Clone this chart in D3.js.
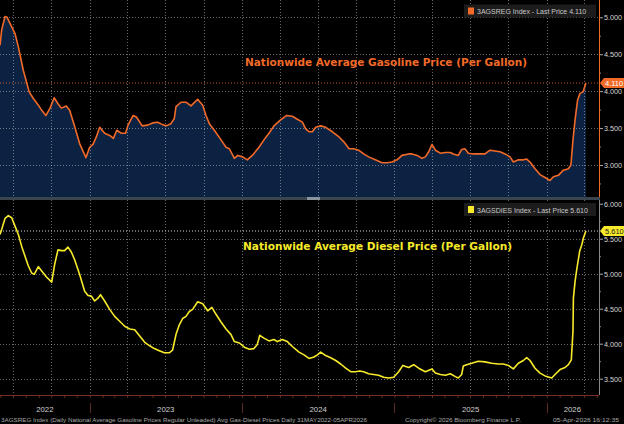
<!DOCTYPE html>
<html>
<head>
<meta charset="utf-8">
<script src="https://cdn.jsdelivr.net/npm/d3@7"></script>
<style>
  html, body { margin: 0; padding: 0; background: #000; }
  svg { display: block; font-family: "Liberation Sans", Arial, sans-serif; }
  .title { font-family: "DejaVu Sans", sans-serif; font-weight: bold; }
</style>
</head>
<body>
<svg id="chart"></svg>
<script>
const width = 624;
const height = 424;

// Gasoline (3AGSREG Index), $ per gallon
const gasDates = ["2022-05-31","2022-06-04","2022-06-12","2022-06-17","2022-06-28","2022-07-06","2022-07-14","2022-07-26","2022-08-09","2022-08-19","2022-08-31","2022-09-08","2022-09-18","2022-09-28","2022-10-08","2022-10-17","2022-10-25","2022-11-06","2022-11-14","2022-11-26","2022-12-08","2022-12-23","2023-01-01","2023-01-09","2023-01-17","2023-01-25","2023-02-06","2023-02-18","2023-02-27","2023-03-07","2023-03-18","2023-03-28","2023-04-03","2023-04-15","2023-04-23","2023-05-07","2023-05-20","2023-06-01","2023-06-13","2023-06-24","2023-07-03","2023-07-15","2023-07-23","2023-07-27","2023-08-08","2023-08-20","2023-09-01","2023-09-17","2023-09-29","2023-10-07","2023-10-15","2023-10-27","2023-11-12","2023-11-24","2023-12-02","2023-12-14","2023-12-22","2024-01-03","2024-01-14","2024-01-26","2024-02-11","2024-02-23","2024-03-06","2024-03-18","2024-04-03","2024-04-17","2024-05-01","2024-05-13","2024-05-25","2024-06-02","2024-06-10","2024-06-18","2024-06-26","2024-07-08","2024-07-20","2024-08-05","2024-08-21","2024-09-02","2024-09-14","2024-09-25","2024-10-07","2024-10-19","2024-10-31","2024-11-16","2024-12-02","2024-12-14","2024-12-26","2025-01-07","2025-01-19","2025-02-04","2025-02-12","2025-02-24","2025-03-08","2025-03-16","2025-03-24","2025-04-01","2025-04-09","2025-04-21","2025-05-03","2025-05-15","2025-05-22","2025-06-03","2025-06-11","2025-06-19","2025-06-27","2025-07-09","2025-07-21","2025-08-06","2025-08-18","2025-08-30","2025-09-11","2025-09-23","2025-10-05","2025-10-13","2025-10-25","2025-11-06","2025-11-14","2025-11-22","2025-12-04","2025-12-16","2025-12-28","2026-01-09","2026-01-17","2026-01-29","2026-02-10","2026-02-22","2026-02-28","2026-03-05","2026-03-10","2026-03-16","2026-03-22","2026-03-29","2026-04-02","2026-04-05"];
const gasValues = [4.62,4.83,5.01,5.00,4.87,4.78,4.60,4.28,3.99,3.90,3.81,3.74,3.67,3.77,3.91,3.83,3.77,3.80,3.74,3.52,3.29,3.10,3.24,3.28,3.38,3.51,3.43,3.40,3.36,3.47,3.43,3.43,3.54,3.67,3.65,3.53,3.54,3.57,3.58,3.55,3.53,3.56,3.63,3.79,3.85,3.85,3.80,3.89,3.81,3.67,3.56,3.47,3.34,3.24,3.22,3.09,3.13,3.11,3.07,3.13,3.24,3.34,3.43,3.53,3.61,3.67,3.66,3.62,3.58,3.49,3.45,3.45,3.51,3.53,3.51,3.45,3.38,3.31,3.22,3.22,3.20,3.15,3.11,3.07,3.03,3.03,3.04,3.07,3.13,3.15,3.15,3.13,3.09,3.11,3.18,3.28,3.20,3.16,3.17,3.17,3.15,3.13,3.21,3.22,3.16,3.15,3.15,3.15,3.20,3.19,3.18,3.15,3.11,3.04,3.07,3.07,3.08,3.04,2.95,2.87,2.83,2.79,2.84,2.86,2.93,2.95,3.00,3.34,3.61,3.88,3.97,3.99,4.06,4.11];

// Diesel (3AGSDIES Index), $ per gallon
const dieselDates = ["2022-05-31","2022-06-04","2022-06-12","2022-06-20","2022-06-28","2022-07-06","2022-07-14","2022-07-22","2022-07-30","2022-08-07","2022-08-15","2022-08-21","2022-08-31","2022-09-08","2022-09-20","2022-10-02","2022-10-09","2022-10-17","2022-10-25","2022-11-02","2022-11-10","2022-11-18","2022-11-26","2022-12-08","2022-12-20","2022-12-28","2023-01-05","2023-01-13","2023-01-21","2023-01-27","2023-02-06","2023-02-18","2023-03-02","2023-03-14","2023-03-26","2023-04-07","2023-04-19","2023-05-01","2023-05-13","2023-05-25","2023-06-05","2023-06-17","2023-06-29","2023-07-11","2023-07-19","2023-07-27","2023-08-04","2023-08-12","2023-08-20","2023-08-28","2023-09-05","2023-09-17","2023-09-29","2023-10-11","2023-10-21","2023-10-31","2023-11-12","2023-11-24","2023-12-06","2023-12-14","2023-12-26","2024-01-07","2024-01-19","2024-01-30","2024-02-07","2024-02-13","2024-02-23","2024-03-06","2024-03-18","2024-03-26","2024-04-07","2024-04-19","2024-05-01","2024-05-17","2024-05-29","2024-06-10","2024-06-22","2024-06-30","2024-07-08","2024-07-20","2024-08-01","2024-08-13","2024-08-25","2024-09-06","2024-09-18","2024-09-30","2024-10-09","2024-10-19","2024-10-31","2024-11-12","2024-11-24","2024-12-06","2024-12-18","2024-12-30","2025-01-11","2025-01-21","2025-02-04","2025-02-16","2025-02-28","2025-03-16","2025-04-01","2025-04-09","2025-04-21","2025-05-03","2025-05-15","2025-05-27","2025-06-03","2025-06-11","2025-06-15","2025-06-23","2025-07-05","2025-07-21","2025-08-06","2025-08-22","2025-09-07","2025-09-19","2025-10-01","2025-10-13","2025-10-25","2025-11-06","2025-11-14","2025-11-22","2025-12-04","2025-12-16","2025-12-28","2026-01-13","2026-01-21","2026-02-02","2026-02-14","2026-02-22","2026-03-01","2026-03-05","2026-03-06","2026-03-10","2026-03-14","2026-03-21","2026-03-26","2026-03-30","2026-04-05"];
const dieselValues = [5.56,5.63,5.79,5.83,5.80,5.68,5.56,5.39,5.25,5.11,5.01,4.99,5.10,5.04,4.95,4.88,5.13,5.34,5.33,5.33,5.38,5.31,5.20,4.99,4.75,4.69,4.68,4.61,4.65,4.70,4.61,4.49,4.39,4.32,4.25,4.21,4.20,4.11,4.02,3.97,3.93,3.90,3.87,3.87,3.91,4.13,4.27,4.36,4.39,4.46,4.49,4.60,4.57,4.47,4.52,4.42,4.31,4.21,4.13,4.03,4.01,3.95,3.92,3.93,3.99,4.12,4.08,4.04,4.06,4.03,4.06,4.03,3.96,3.88,3.84,3.79,3.81,3.84,3.88,3.83,3.80,3.76,3.71,3.65,3.60,3.60,3.61,3.60,3.57,3.56,3.55,3.52,3.51,3.52,3.60,3.69,3.66,3.70,3.65,3.60,3.64,3.58,3.56,3.55,3.57,3.53,3.51,3.56,3.68,3.70,3.72,3.75,3.74,3.72,3.71,3.71,3.69,3.64,3.72,3.76,3.80,3.76,3.65,3.58,3.54,3.51,3.56,3.63,3.66,3.70,3.77,4.18,4.65,4.89,5.06,5.32,5.41,5.51,5.61];

const gasTicks = [3.0, 3.5, 4.0, 4.5, 5.0];
const gasMinorTicks = [2.75, 3.25, 3.75, 4.25, 4.75, 5.25];
const dieselTicks = [3.5, 4.0, 4.5, 5.0, 5.5, 6.0];
const dieselMinorTicks = [3.25, 3.75, 4.25, 4.75, 5.25, 5.75];
const yearLabels = ["2022", "2023", "2024", "2025", "2026"];

const gasLast = gasValues[gasValues.length - 1];
const dieselLast = dieselValues[dieselValues.length - 1];

const gasColor = "#f26a28";
const dieselColor = "#f7ea2a";

const parse = d3.utcParse("%Y-%m-%d");
const gasData = gasDates.map((d, i) => ({date: parse(d), value: gasValues[i]}));
const dieselData = dieselDates.map((d, i) => ({date: parse(d), value: dieselValues[i]}));

const plotRight = 598;
const top1 = 0, bottom1 = 197;   // panneau essence
const top2 = 200, bottom2 = 395; // panneau diesel

const x = d3.scaleUtc()
    .domain([parse("2022-05-31"), parse("2026-05-04")])
    .range([0, plotRight]);

const yGas = d3.scaleLinear().domain([3, 5]).range([165, 17.3]);
const yDiesel = d3.scaleLinear().domain([3.5, 6]).range([378.7, 203.7]);

const svg = d3.select("#chart")
    .attr("width", width)
    .attr("height", height)
    .attr("viewBox", [0, 0, width, height]);

svg.append("rect").attr("width", width).attr("height", height).attr("fill", "#000");

// Aire sous la courbe essence
svg.append("path")
    .datum(gasData)
    .attr("fill", "#0b2243")
    .attr("d", d3.area().x(d => x(d.date)).y0(bottom1).y1(d => yGas(d.value)));

// Grilles
const quarters = d3.utcMonth.every(3).range(x.domain()[0], x.domain()[1]);
const grid = svg.append("g")
    .attr("stroke", "#c8c8c8")
    .attr("stroke-opacity", 0.65)
    .attr("stroke-width", 0.8)
    .attr("stroke-dasharray", "1,2");

[[top1, bottom1], [top2, bottom2]].forEach(([t, b]) => {
  grid.append("g").selectAll("line")
    .data(quarters)
    .join("line")
      .attr("x1", d => Math.round(x(d)) + 0.5)
      .attr("x2", d => Math.round(x(d)) + 0.5)
      .attr("y1", t)
      .attr("y2", b);
});

grid.append("g").selectAll("line")
  .data(gasTicks)
  .join("line")
    .attr("x1", 0).attr("x2", plotRight)
    .attr("y1", d => Math.round(yGas(d)) + 0.5)
    .attr("y2", d => Math.round(yGas(d)) + 0.5);

grid.append("g").selectAll("line")
  .data(dieselTicks.filter(d => d < 6))
  .join("line")
    .attr("x1", 0).attr("x2", plotRight)
    .attr("y1", d => Math.round(yDiesel(d)) + 0.5)
    .attr("y2", d => Math.round(yDiesel(d)) + 0.5);

// Lignes du dernier prix
svg.append("line")
    .attr("x1", 0).attr("x2", plotRight)
    .attr("y1", yGas(gasLast)).attr("y2", yGas(gasLast))
    .attr("stroke", "#d9602a").attr("stroke-width", 0.9)
    .attr("stroke-dasharray", "1,2");

svg.append("line")
    .attr("x1", 0).attr("x2", plotRight)
    .attr("y1", yDiesel(dieselLast)).attr("y2", yDiesel(dieselLast))
    .attr("stroke", "#eee").attr("stroke-width", 0.9)
    .attr("stroke-dasharray", "1,2");

// Courbes
svg.append("path")
    .datum(gasData)
    .attr("fill", "none")
    .attr("stroke", gasColor)
    .attr("stroke-width", 1.6)
    .attr("stroke-linejoin", "round")
    .attr("d", d3.line().x(d => x(d.date)).y(d => yGas(d.value)));

svg.append("path")
    .datum(dieselData)
    .attr("fill", "none")
    .attr("stroke", dieselColor)
    .attr("stroke-width", 1.6)
    .attr("stroke-linejoin", "round")
    .attr("d", d3.line().x(d => x(d.date)).y(d => yDiesel(d.value)));

// Séparateur entre les panneaux
svg.append("rect").attr("x", 0).attr("y", bottom1).attr("width", 600).attr("height", 3).attr("fill", "#3a4550");
svg.append("rect").attr("x", 307).attr("y", bottom1).attr("width", 13).attr("height", 3).attr("fill", "#8a949c");

// Axes de droite
function rightAxis(scale, ticks, minor, lineColor, top, bottom) {
  const g = svg.append("g").attr("transform", `translate(${plotRight + 1},0)`);
  g.append("g")
      .call(d3.axisRight(scale).tickValues(ticks).tickFormat(d3.format(".3f")).tickSize(4).tickPadding(1))
      .call(s => s.select(".domain").remove())
      .call(s => s.selectAll(".tick line").attr("stroke", "#aaa"))
      .call(s => s.selectAll(".tick text")
          .attr("fill", "#d8d8d8")
          .attr("font-size", 7.2)
          .attr("font-family", null));
  g.append("g")
      .call(d3.axisRight(scale).tickValues(minor.filter(v => scale(v) > top && scale(v) < bottom)).tickFormat("").tickSize(2))
      .call(s => s.select(".domain").remove())
      .call(s => s.selectAll(".tick line").attr("stroke", "#888"));
  g.append("line")
      .attr("x1", 0.5).attr("x2", 0.5)
      .attr("y1", top).attr("y2", bottom)
      .attr("stroke", lineColor).attr("stroke-width", 1);
}
rightAxis(yGas, gasTicks, gasMinorTicks, gasColor, top1, bottom1);
rightAxis(yDiesel, dieselTicks, dieselMinorTicks, "#8a8a8a", top2, bottom2);

// Étiquettes du dernier prix
function lastTag(yPos, label, fill, textFill) {
  const g = svg.append("g").attr("transform", `translate(600,${yPos})`);
  g.append("path")
      .attr("d", "M0,0 L4,-5 L24,-5 L24,5 L4,5 Z")
      .attr("fill", fill);
  g.append("text")
      .attr("x", 5).attr("y", 0)
      .attr("dy", "0.35em")
      .attr("font-size", 7.5)
      .attr("fill", textFill)
      .text(label);
}
lastTag(yGas(gasLast), d3.format(".3f")(gasLast), gasColor, "#fff");
lastTag(yDiesel(dieselLast), d3.format(".3f")(dieselLast), dieselColor, "#222");

// Légendes
function legend(yTop, color, label) {
  const g = svg.append("g").attr("transform", `translate(464,${yTop})`);
  g.append("rect").attr("width", 132).attr("height", 13).attr("fill", "#1c1c1c");
  g.append("rect").attr("x", 4).attr("y", 3).attr("width", 6).attr("height", 7).attr("fill", color);
  g.append("text")
      .attr("x", 13).attr("y", 9.5)
      .attr("font-size", 7)
      .attr("fill", "#c8c8c8")
      .text(label);
}
legend(4.5, gasColor, `3AGSREG Index  -  Last Price  ${d3.format(".3f")(gasLast)}`);
legend(203, dieselColor, `3AGSDIES Index  -  Last Price  ${d3.format(".3f")(dieselLast)}`);

// Titres
svg.append("text")
    .attr("class", "title")
    .attr("x", 245).attr("y", 66)
    .attr("font-size", 10)
    .attr("textLength", 282)
    .attr("lengthAdjust", "spacingAndGlyphs")
    .attr("fill", gasColor)
    .text("Nationwide Average Gasoline Price (Per Gallon)");

svg.append("text")
    .attr("class", "title")
    .attr("x", 243).attr("y", 250)
    .attr("font-size", 10)
    .attr("textLength", 269)
    .attr("lengthAdjust", "spacingAndGlyphs")
    .attr("fill", dieselColor)
    .text("Nationwide Average Diesel Price (Per Gallon)");

// Axe du temps
const xAxisG = svg.append("g").attr("transform", `translate(0,${bottom2})`);
xAxisG.append("g")
    .call(d3.axisBottom(x).ticks(d3.utcMonth.every(1)).tickFormat("").tickSize(3))
    .call(s => s.select(".domain").remove())
    .call(s => s.selectAll(".tick line").attr("stroke", "#6b2b20"));
xAxisG.append("line")
    .attr("x1", 0).attr("x2", plotRight + 1)
    .attr("y1", 0.5).attr("y2", 0.5)
    .attr("stroke", "#7a2e22").attr("stroke-width", 1);

const yearStarts = d3.utcYear.range(x.domain()[0], x.domain()[1]);
xAxisG.append("g").selectAll("line")
  .data(yearStarts)
  .join("line")
    .attr("x1", d => Math.round(x(d)) + 0.5)
    .attr("x2", d => Math.round(x(d)) + 0.5)
    .attr("y1", 8).attr("y2", 18)
    .attr("stroke", "#5e2a22");

const bounds = [x.domain()[0], ...yearStarts, x.domain()[1]];
xAxisG.append("g").selectAll("text")
  .data(yearLabels)
  .join("text")
    .attr("x", (d, i) => (x(bounds[i]) + x(bounds[i + 1])) / 2)
    .attr("y", 17)
    .attr("text-anchor", "middle")
    .attr("font-size", 7.8)
    .attr("fill", "#d0d0d0")
    .text(d => d);

// Pied de page
const foot = svg.append("g").attr("font-size", 6.2).attr("fill", "#a8a8a8");
foot.append("text").attr("x", 1).attr("y", 422)
    .attr("textLength", 366).attr("lengthAdjust", "spacingAndGlyphs")
    .text("3AGSREG Index (Daily National Average Gasoline Prices Regular Unleaded) Avg Gas-Diesel Prices Daily 31MAY2022-05APR2026");
foot.append("text").attr("x", 405).attr("y", 422)
    .attr("textLength", 116).attr("lengthAdjust", "spacingAndGlyphs")
    .text("Copyright\u00a9 2026 Bloomberg Finance L.P.");
foot.append("text").attr("x", 553).attr("y", 422)
    .attr("textLength", 66).attr("lengthAdjust", "spacingAndGlyphs")
    .text("05-Apr-2026 16:12:35");
</script>
</body>
</html>
